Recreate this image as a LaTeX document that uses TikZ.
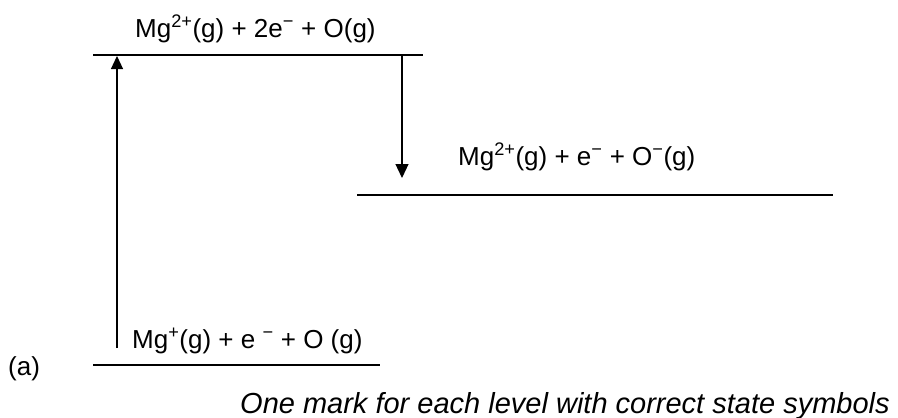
\documentclass[tikz,border=0pt]{standalone}
\usepackage{fontspec}
\setmainfont{Liberation Sans}
\usetikzlibrary{arrows.meta}

\begin{document}
\begin{tikzpicture}[x=1pt,y=-1pt,font=\fontsize{26}{30}\selectfont]
  \useasboundingbox (0,0) rectangle (898,418);
  \coordinate (T1) at (93,55); \coordinate (T2) at (423,55);
  \coordinate (M1) at (357,195); \coordinate (M2) at (833,195);
  \coordinate (B1) at (93,365); \coordinate (B2) at (380,365);
  \coordinate (U1) at (117,348); \coordinate (U2) at (117,56);
  \coordinate (D1) at (402,55); \coordinate (D2) at (402,178);
  \draw[line width=1.3pt] (T1)--(T2); \draw[line width=1.3pt] (M1)--(M2); \draw[line width=1.3pt] (B1)--(B2);
  \draw[line width=1.2pt,-{Triangle[width=12pt,length=13pt]}] (U1)--(U2);
  \draw[line width=1.2pt,-{Triangle[width=13pt,length=14pt]}] (D1)--(D2);
  \node[anchor=base west,inner sep=0pt] (top) at (135,37) {Mg\textsuperscript{2+}(g) + 2e\textsuperscript{−} + O(g)};
  \node[anchor=base west,inner sep=0pt] (mid) at (458,165) {Mg\textsuperscript{2+}(g) + e\textsuperscript{−} + O\textsuperscript{−}(g)};
  \node[anchor=base west,inner sep=0pt] (bot) at (132,348) {Mg\textsuperscript{+}(g) + e \textsuperscript{−} + O (g)};
  \node[anchor=base west,inner sep=0pt] (part) at (8,375) {(a)};
  \node[anchor=base west,inner sep=0pt,font=\fontsize{29}{33}\selectfont\itshape] (note) at (240,413) {One mark for each level with correct state symbols};
\end{tikzpicture}
\end{document}
